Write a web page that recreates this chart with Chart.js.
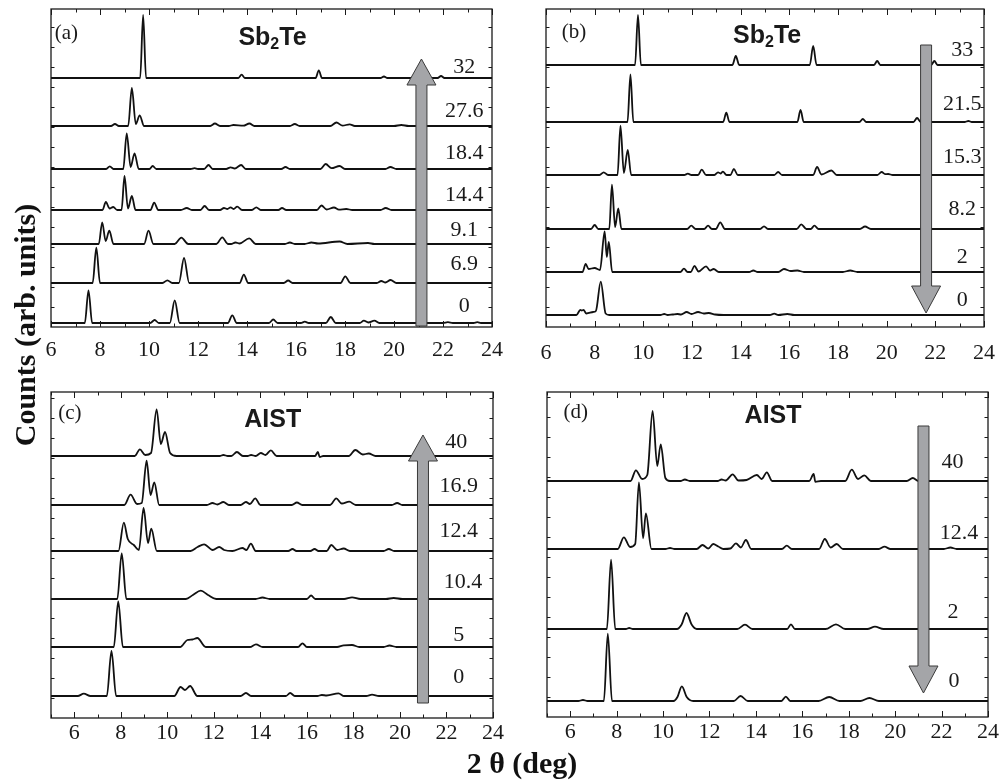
<!DOCTYPE html>
<html>
<head>
<meta charset="utf-8">
<script src="https://cdn.jsdelivr.net/npm/chart.js@4.4.1/dist/chart.umd.min.js"></script>
<style>
  html, body { margin: 0; padding: 0; background: #fff; }
  body { width: 1001px; height: 781px; position: relative; overflow: hidden;
         font-family: "Liberation Serif", "Times New Roman", serif; color: #111; }
  .pane { position: absolute; }
  #ylab { position: absolute; left: -125px; top: 308px; width: 300px; height: 34px; line-height: 34px;
          text-align: center; font-weight: bold; font-size: 30px; white-space: nowrap;
          transform: rotate(-90deg); }
  #xlab { position: absolute; left: 372px; top: 746px; width: 300px; line-height: 34px;
          text-align: center; font-weight: bold; font-size: 30px; white-space: nowrap; }
</style>
</head>
<body>
<div class="pane" id="pa"><canvas id="ca"></canvas></div>
<div class="pane" id="pb"><canvas id="cb"></canvas></div>
<div class="pane" id="pc"><canvas id="cc"></canvas></div>
<div class="pane" id="pd"><canvas id="cd"></canvas></div>
<div id="ylab">Counts (arb. units)</div>
<div id="xlab">2 θ (deg)</div>
<script>
/* Diffractogrammes empilés : 2θ (deg) -> intensité (u. arb.) au-dessus de la ligne de base de chaque courbe. */

const xTicks = [6, 8, 10, 12, 14, 16, 18, 20, 22, 24];

// ---- (a) Sb2Te, courbes de bas en haut
const namesA = ['0', '6.9', '9.1', '14.4', '18.4', '27.6', '32'];
const basesA = [4, 44, 83, 117, 158, 201, 249];
const a_0 = [[6,0],[7.38,0],[7.53,32.7],[7.68,0],[10.05,0],[10.23,3],[10.4,0],[10.85,0],[11.05,22.7],[11.25,0],[13.22,0],[13.4,7.7],[13.58,0],[14.9,0],[15.07,3.5],[15.25,0],[16.2,0],[16.36,1.3],[16.52,0],[17.22,0],[17.42,6],[17.62,0],[18.6,0],[18.77,2.3],[18.95,0.5],[19.2,2.3],[19.4,0],[22.0,0],[22.2,0.8],[22.4,0],[23.25,0],[23.4,0.8],[23.55,0],[24,0]];
const a_6_9 = [[6,0],[7.7,0],[7.85,35.3],[8.0,0],[10.55,0],[10.75,2.7],[10.95,0],[11.22,0],[11.43,25],[11.64,0],[13.7,0],[13.87,8.3],[14.05,0],[15.5,0],[15.68,2.5],[15.86,0],[17.82,0],[18.01,6.7],[18.22,0],[19.3,0],[19.48,2],[19.65,0.5],[19.86,3],[20.1,0],[24,0]];
const a_9_1 = [[6,0],[7.95,0],[8.09,21.7],[8.23,3],[8.38,13.3],[8.55,0],[9.8,0],[9.98,13.3],[10.18,0],[11.05,0],[11.32,6.3],[11.6,0],[12.75,0],[12.99,6.7],[13.22,0],[13.35,0],[13.53,1.5],[13.7,0.5],[14.09,5.7],[14.35,0],[15.55,0],[15.75,1.5],[15.95,0],[16.35,0],[16.63,1.5],[16.9,0.5],[17.78,2.5],[18.1,0],[18.94,1],[19.2,0],[24,0]];
const a_14_4 = [[6,0],[8.1,0],[8.24,8],[8.39,1.5],[8.54,3],[8.7,0],[8.88,0],[9.0,34],[9.14,1.5],[9.3,14],[9.45,0],[10.06,0],[10.21,7.3],[10.38,0],[11.3,0],[11.54,2],[11.75,0],[12.1,0],[12.27,4],[12.45,0],[12.9,0],[13.06,2],[13.2,1],[13.33,2.7],[13.45,1],[13.6,3.3],[13.8,0],[14.2,0],[14.38,2.7],[14.56,0],[15.28,0],[15.43,2],[15.6,0],[16.85,0],[17.04,4.5],[17.25,0.5],[17.55,2.5],[17.75,0.3],[18.05,1],[18.3,0],[19.45,0],[19.66,2],[19.9,0],[24,0]];
const a_18_4 = [[6,0],[8.25,0],[8.4,2.7],[8.55,0],[8.95,0],[9.09,35.7],[9.25,2],[9.41,15.7],[9.58,0],[10.02,0],[10.15,3],[10.3,0],[11.7,0],[11.86,0.8],[12.0,0],[12.25,0],[12.43,4],[12.6,0],[13.15,0],[13.33,1.7],[13.5,0.5],[13.76,4],[13.95,0],[15.4,0],[15.57,2],[15.75,0],[17.0,0],[17.21,5],[17.45,0.8],[17.78,3],[18.0,0],[19.65,0],[19.85,2],[20.1,0],[24,0]];
const a_27_6 = [[6,0],[8.45,0],[8.61,2],[8.77,0],[9.15,0],[9.3,38],[9.46,2],[9.62,10.7],[9.8,0],[12.5,0],[12.69,2.5],[12.9,0],[13.25,0],[13.45,1],[13.85,0.3],[14.1,2.5],[14.3,0],[15.75,0],[15.95,2],[16.15,0],[17.4,0],[17.65,3.5],[17.9,0.3],[18.19,1.7],[18.4,0],[20.0,0],[20.3,1],[20.6,0],[24,0]];
const a_32 = [[6,0],[9.64,0],[9.76,63],[9.88,0],[13.65,0],[13.78,3.3],[13.91,0],[16.8,0],[16.93,7.7],[17.06,0],[19.45,0],[19.59,1.5],[19.73,0],[21.78,0],[21.92,2],[22.06,0],[24,0]];

// ---- (b) Sb2Te
const namesB = ['0', '2', '8.2', '15.3', '21.5', '33'];
const basesB = [12, 55, 98, 152, 205, 262];
const b_0 = [[6,0],[7.25,0],[7.41,5],[7.47,4.5],[7.54,5],[7.66,1.5],[7.94,3],[8.05,4],[8.25,33.3],[8.45,1.5],[8.6,0],[10.7,0],[10.86,1],[11.0,0],[11.2,0.5],[11.4,1],[11.55,0.5],[11.78,3],[11.98,1],[12.25,3],[12.48,1.5],[12.69,2],[12.95,0.5],[13.3,0],[15.2,0],[15.38,1.3],[15.55,0],[15.92,1],[16.2,0],[24,0]];
const b_2 = [[6,0],[7.5,0],[7.63,8],[7.75,3],[8.0,4],[8.22,2],[8.41,40.7],[8.5,15],[8.58,30],[8.72,0],[11.52,0],[11.67,3.3],[11.82,0],[11.95,0],[12.1,6],[12.27,0.5],[12.58,5.7],[12.74,1.5],[12.89,3],[13.1,0],[14.35,0],[14.52,1.5],[14.7,0],[15.55,0],[15.78,3],[16.05,1],[16.33,1.5],[16.6,0],[18.2,0],[18.5,1.5],[18.8,0],[24,0]];
const b_8_2 = [[6,0],[7.85,0],[8.0,4],[8.15,0],[8.6,0],[8.71,44.3],[8.84,2],[8.97,20.7],[9.1,0],[11.8,0],[11.97,3.3],[12.15,0],[12.5,0],[12.66,3.3],[12.82,0],[12.98,0],[13.16,6.7],[13.35,0],[14.8,0],[14.96,2.7],[15.12,0],[16.3,0],[16.49,4.7],[16.7,0],[16.88,0],[17.03,3.3],[17.2,0],[18.9,0],[19.11,2.5],[19.35,0],[24,0]];
const b_15_3 = [[6,0],[8.2,0],[8.37,2.7],[8.55,0],[8.94,0],[9.06,49.3],[9.2,2],[9.36,25],[9.5,0],[11.68,0],[11.83,1.3],[11.98,0],[12.25,0],[12.4,5.3],[12.58,0],[12.92,0],[13.07,2.7],[13.17,1.5],[13.27,3.3],[13.42,0],[13.58,0],[13.72,6],[13.88,0],[15.38,0],[15.54,3],[15.7,0],[16.98,0],[17.14,8],[17.32,0.5],[17.73,4.5],[17.95,0],[19.62,0],[19.79,3],[19.95,0.8],[20.06,1],[20.25,0],[24,0]];
const b_21_5 = [[6,0],[9.35,0],[9.47,47.7],[9.59,0],[13.28,0],[13.41,9.3],[13.54,0],[16.33,0],[16.46,12],[16.59,0],[18.88,0],[19.02,3],[19.16,0],[21.1,0],[21.25,4],[21.4,0],[23.2,0],[23.36,1],[23.5,0],[24,0]];
const b_33 = [[6,0],[9.66,0],[9.78,50],[9.9,0],[13.66,0],[13.8,9],[13.94,0],[16.84,0],[16.98,19],[17.12,0],[19.48,0],[19.61,4],[19.74,0],[21.83,0],[21.96,4],[22.09,0],[24,0]];

// ---- (c) AIST
const namesC = ['0', '5', '10.4', '12.4', '16.9', '40'];
const basesC = [22, 71, 119, 167, 213, 262];
const c_0 = [[5,0],[6.15,0],[6.41,2.3],[6.7,0],[7.4,0],[7.6,45],[7.8,0],[10.3,0],[10.57,9],[10.76,6],[10.98,10],[11.29,0],[13.15,0],[13.38,3],[13.6,0],[15.1,0],[15.28,3],[15.48,0],[16.45,0],[16.64,1],[16.85,0.5],[17.36,2.7],[17.6,0],[18.55,0],[18.8,1.3],[19.1,0],[24,0]];
const c_5 = [[5,0],[7.7,0],[7.89,45.7],[8.09,0],[10.55,0],[10.86,7],[11.08,7.5],[11.29,9],[11.65,0],[13.55,0],[13.81,2.7],[14.1,0],[15.62,0],[15.81,3.7],[16.0,0],[17.3,0],[17.58,1.7],[17.94,2],[18.25,0],[19.3,0],[19.55,1.5],[19.85,0],[24,0]];
const c_10_4 = [[5,0],[7.85,0],[8.04,45.7],[8.24,0],[10.8,0],[11.1,4],[11.44,8.3],[11.75,4],[12.1,0],[13.8,0],[14.09,1.5],[14.4,0],[16.0,0],[16.18,3.5],[16.36,0],[17.6,0],[17.94,1.7],[18.3,0],[19.4,0],[19.73,1],[20.1,0],[24,0]];
const c_12_4 = [[5,0],[7.9,0],[8.13,28.3],[8.3,12],[8.56,6],[8.78,1],[8.98,43],[9.17,8],[9.31,22.3],[9.55,0],[11.0,0],[11.3,4],[11.58,6.7],[11.95,1],[12.23,4],[12.44,1],[12.8,0],[13.23,3],[13.4,1],[13.59,7.3],[13.8,0],[15.2,0],[15.38,2],[15.55,0],[16.15,0],[16.33,2],[16.5,0],[16.85,0],[17.05,6],[17.3,1],[17.58,2.5],[17.85,0],[19.3,0],[19.52,2],[19.75,0],[24,0]];
const c_16_9 = [[5,0],[8.15,0],[8.42,10.3],[8.7,1],[8.9,2],[9.11,44.3],[9.28,10],[9.44,22.7],[9.65,0],[11.7,0],[11.94,2],[12.15,0.5],[12.41,3],[12.65,0],[13.15,0],[13.38,3],[13.55,1],[13.78,6.7],[14.0,0],[15.35,0],[15.57,2.5],[15.8,0],[17.0,0],[17.26,6.7],[17.5,1.5],[17.82,3.3],[18.1,0],[19.65,0],[19.88,2],[20.1,0],[24,0]];
const c_40 = [[5,0],[8.6,0],[8.82,6.7],[9.05,1],[9.3,3],[9.54,46.7],[9.72,12],[9.9,24],[10.12,3],[10.4,0],[12.25,0],[12.41,1],[12.6,0],[12.75,0],[12.99,4],[13.25,0],[13.45,0],[13.6,1],[13.8,0],[14.02,3],[14.22,1],[14.45,5.7],[14.7,0],[16.35,0],[16.47,4],[16.55,-1],[16.7,0],[17.8,0],[18.08,6],[18.4,1.5],[18.66,2.5],[18.95,0],[24,0]];

// ---- (d) AIST
const namesD = ['0', '2', '12.4', '40'];
const basesD = [16, 88, 168, 236];
const d_0 = [[5,0],[6.35,0],[6.55,1],[6.75,0],[7.45,0],[7.62,67.3],[7.8,0],[10.45,0],[10.62,4],[10.81,14.7],[11.02,4],[11.3,0],[13.05,0],[13.34,5],[13.65,0],[15.1,0],[15.29,4.3],[15.48,0],[16.7,0],[17.16,4],[17.6,0],[18.5,0],[18.89,3],[19.3,0],[24,0]];
const d_2 = [[5,0],[7.58,0],[7.76,69.3],[7.94,0],[8.4,0],[8.54,1],[8.7,0],[10.6,0],[10.8,4.5],[11.01,16],[11.23,4.5],[11.45,0],[13.2,0],[13.53,4.3],[13.85,0],[15.35,0],[15.51,4.7],[15.68,0],[17.0,0],[17.45,4.7],[17.85,0],[18.8,0],[19.13,2.3],[19.5,0],[24,0]];
const d_12_4 = [[5,0],[8.05,0],[8.31,11.7],[8.58,2],[8.8,5],[8.96,66.7],[9.14,10.7],[9.26,35.7],[9.5,0],[10.1,0],[10.3,1],[10.5,0],[11.45,0],[11.7,4],[11.95,0.5],[12.16,5],[12.38,2.5],[12.6,0],[12.9,0.5],[13.14,5.7],[13.35,1.5],[13.57,9],[13.8,0],[15.12,0],[15.33,3.3],[15.55,0],[16.72,0],[16.97,10],[17.22,1.5],[17.48,5],[17.75,0],[19.3,0],[19.54,2.3],[19.8,0],[22.1,0],[22.38,1.5],[22.65,0],[24,0]];
const d_40 = [[5,0],[8.6,0],[8.83,10.7],[9.1,2],[9.32,6],[9.55,70],[9.75,15],[9.9,36.7],[10.1,3],[10.3,0],[10.75,0],[10.94,1.5],[11.15,0],[12.35,0],[12.52,1.5],[12.7,0.5],[13.0,6.7],[13.25,0.5],[13.6,1],[14.04,6],[14.25,2],[14.47,8.7],[14.7,0],[16.3,0],[16.49,7],[16.56,-0.8],[16.8,0],[17.85,0],[18.13,11.3],[18.4,2],[18.67,5.7],[18.95,0],[20.5,0],[20.76,3],[21.0,0],[24,0]];

// étiquettes des courbes : [2θ, intensité] du centre du texte
const labPosA = [[22.87,21],[22.87,63],[22.87,97],[22.87,132],[22.87,174],[22.87,216],[22.87,260]];
const labPosB = [[23.11,27],[23.11,70],[23.11,118],[23.11,170],[23.11,223],[23.11,277]];
const labPosC = [[22.53,41],[22.53,83],[22.71,136],[22.53,187],[22.53,232],[22.42,276]];
const labPosD = [[22.54,36],[22.49,105],[22.75,184],[22.47,255]];

// flèches : [2θ, départ, base de la pointe, pointe]
const arrowA = [21.12, 1, 242, 268];
const arrowB = [21.62, 282, 41, 14];
const arrowC = [20.99, 15, 257, 283];
const arrowD = [21.22, 291, 51, 24];

const PADX = 20, PADT = 6, AXIS_H = 44;

function makeDecor(p) {
  return {
    id: 'decor',
    afterDatasetsDraw(chart) {
      const { ctx, chartArea: a, scales: { x, y } } = chart;
      ctx.save();
      const seg = (x1, y1, x2, y2) => { ctx.beginPath(); ctx.moveTo(x1, y1); ctx.lineTo(x2, y2); ctx.stroke(); };
      // cadre + graduations intérieures
      ctx.strokeStyle = '#1a1a1a';
      ctx.lineWidth = 1.3;
      ctx.strokeRect(a.left, a.top, a.right - a.left, a.bottom - a.top);
      ctx.lineWidth = 1;
      for (let v = Math.ceil(x.min); v <= x.max; v++) {
        const px = Math.round(x.getPixelForValue(v)) + 0.5, len = v % 2 ? 3.5 : 6;
        seg(px, a.bottom, px, a.bottom - len);
        seg(px, a.top, px, a.top + len);
      }
      for (let v = 20; v < y.max; v += 20) {
        const py = Math.round(y.getPixelForValue(v)) + 0.5;
        seg(a.left, py, a.left + 3.5, py);
        seg(a.right, py, a.right - 3.5, py);
      }
      // flèche
      const [ax, tail, base, tip] = p.arrow;
      const cx = x.getPixelForValue(ax), pt = y.getPixelForValue(tail),
            pb = y.getPixelForValue(base), pp = y.getPixelForValue(tip);
      const sw = 5.5, hw = 14.5;
      ctx.beginPath();
      ctx.moveTo(cx - sw, pt); ctx.lineTo(cx - sw, pb); ctx.lineTo(cx - hw, pb);
      ctx.lineTo(cx, pp); ctx.lineTo(cx + hw, pb); ctx.lineTo(cx + sw, pb); ctx.lineTo(cx + sw, pt);
      ctx.closePath();
      ctx.fillStyle = '#a4a5a8'; ctx.fill();
      ctx.strokeStyle = '#3a3a3a'; ctx.lineWidth = 1; ctx.stroke();
      // valeurs à droite des courbes
      ctx.fillStyle = '#1a1a1a';
      ctx.font = '22px "Liberation Serif"';
      ctx.textAlign = 'center'; ctx.textBaseline = 'middle';
      p.names.forEach((n, i) => {
        const [lx, ly] = p.labPos[i];
        ctx.fillText(n, x.getPixelForValue(lx), y.getPixelForValue(ly));
      });
      // lettre du panneau
      ctx.textAlign = 'left';
      ctx.font = '21px "Liberation Serif"';
      ctx.fillText(p.letter[0], x.getPixelForValue(p.letter[1]), y.getPixelForValue(p.letter[2]));
      // titre (avec indice)
      ctx.textBaseline = 'alphabetic';
      const parts = p.title;
      const big = 'bold 25px "Liberation Sans"', small = 'bold 16px "Liberation Sans"';
      let w = 0;
      parts.forEach(([t, sub]) => { ctx.font = sub ? small : big; w += ctx.measureText(t).width; });
      let tx = x.getPixelForValue(p.titlePos[0]) - w / 2;
      const ty = y.getPixelForValue(p.titlePos[1]);
      parts.forEach(([t, sub]) => {
        ctx.font = sub ? small : big;
        ctx.fillText(t, tx, sub ? ty + 3.5 : ty);
        tx += ctx.measureText(t).width;
      });
      ctx.restore();
    }
  };
}

function makePanel(box, canvasId, p) {
  const el = document.getElementById(box);
  Object.assign(el.style, {
    left: (p.L - PADX) + 'px', top: (p.T - PADT) + 'px',
    width: (p.W + 2 * PADX) + 'px', height: (p.H + PADT + AXIS_H) + 'px'
  });
  const datasets = p.traces.map((pts, i) => ({
    label: p.names[i],
    data: pts.map(q => ({ x: q[0], y: p.bases[i] + q[1] })),
    borderColor: '#111', borderWidth: 1.8, pointRadius: 0,
    cubicInterpolationMode: 'monotone', fill: false
  }));
  new Chart(document.getElementById(canvasId), {
    type: 'line',
    data: { datasets },
    options: {
      animation: false, responsive: true, maintainAspectRatio: false,
      layout: { padding: { left: PADX, right: PADX, top: PADT, bottom: 0 } },
      scales: {
        x: {
          type: 'linear', min: p.xMin, max: 24,
          afterBuildTicks: s => { s.ticks = xTicks.map(v => ({ value: v })); },
          afterFit: s => { s.height = AXIS_H; },
          grid: { display: false, drawTicks: false }, border: { display: false },
          ticks: { padding: p.tickPad, color: '#1a1a1a', autoSkip: false, maxRotation: 0,
                   font: { family: 'Liberation Serif', size: 22 } }
        },
        y: { type: 'linear', display: false, min: 0, max: p.H }
      },
      plugins: { legend: { display: false }, tooltip: { enabled: false } }
    },
    plugins: [makeDecor(p)]
  });
}

const SB2TE = [['Sb', false], ['2', true], ['Te', false]];
const AIST = [['AIST', false]];

makePanel('pa', 'ca', { L: 51, T: 9, W: 442, H: 318, xMin: 6, tickPad: 10,
  names: namesA, bases: basesA, traces: [a_0, a_6_9, a_9_1, a_14_4, a_18_4, a_27_6, a_32],
  labPos: labPosA, arrow: arrowA, letter: ['(a)', 6.15, 294], title: SB2TE, titlePos: [15.04, 282] });
makePanel('pb', 'cb', { L: 546, T: 9, W: 442, H: 318, xMin: 6, tickPad: 13,
  names: namesB, bases: basesB, traces: [b_0, b_2, b_8_2, b_15_3, b_21_5, b_33],
  labPos: labPosB, arrow: arrowB, letter: ['(b)', 6.65, 295], title: SB2TE, titlePos: [15.09, 284] });
makePanel('pc', 'cc', { L: 51, T: 392, W: 442, H: 326, xMin: 5, tickPad: 2,
  names: namesC, bases: basesC, traces: [c_0, c_5, c_10_4, c_12_4, c_16_9, c_40],
  labPos: labPosC, arrow: arrowC, letter: ['(c)', 5.31, 305], title: AIST, titlePos: [14.53, 291] });
makePanel('pd', 'cd', { L: 547, T: 392, W: 441, H: 325, xMin: 5, tickPad: 2,
  names: namesD, bases: basesD, traces: [d_0, d_2, d_12_4, d_40],
  labPos: labPosD, arrow: arrowD, letter: ['(d)', 5.71, 305], title: AIST, titlePos: [14.74, 294] });
</script>
</body>
</html>
